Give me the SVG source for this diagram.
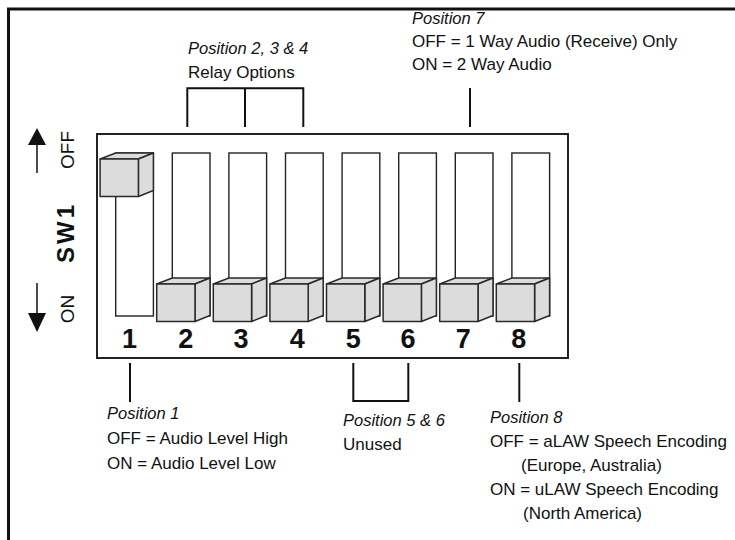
<svg xmlns="http://www.w3.org/2000/svg" xmlns:xlink="http://www.w3.org/1999/xlink" width="735" height="540" viewBox="0 0 735 540">
<style>
.frame{fill:none;stroke:#111;stroke-width:3}
.box{fill:#fff;stroke:#222;stroke-width:2}
.slot{fill:#fff;stroke:#222;stroke-width:1.4}
.cube{fill:#dcdcdc;stroke:#2a2a2a;stroke-width:1.5;stroke-linejoin:round}
.conn{fill:none;stroke:#111;stroke-width:2}
.t{font-family:"Liberation Sans",Arial,sans-serif;font-size:17px;fill:#111}
.it{font-family:"Liberation Sans",Arial,sans-serif;font-size:16.5px;font-style:italic;fill:#111}
.num{font-family:"Liberation Sans",Arial,sans-serif;font-size:27px;font-weight:bold;fill:#111;text-anchor:middle}
.side{font-family:"Liberation Sans",Arial,sans-serif;font-size:19px;fill:#111;text-anchor:middle}
.sw{font-family:"Liberation Sans",Arial,sans-serif;font-size:24px;font-weight:bold;fill:#111;text-anchor:middle}
.arr{fill:#111;stroke:none}
</style>
<defs>
<g id="cube">
<path class="cube" d="M-15.6,6 L0,0 L37.7,0 L22.7,6 Z"/>
<path class="cube" d="M22.7,6 L37.7,0 L37.7,37.5 L22.7,43.5 Z"/>
<rect class="cube" x="-15.6" y="6" width="38.3" height="37.5"/>
</g>
</defs>
<rect class="frame" x="8.5" y="9" width="740" height="540"/>

<g id="switch-body">
<rect class="box" x="97" y="134" width="471" height="224"/>
</g>

<g id="side-labels">
<line x1="37" y1="143" x2="37" y2="173" stroke="#111" stroke-width="1.5"/>
<polygon class="arr" points="37,128 28,145 46,145"/>
<line x1="37" y1="283" x2="37" y2="314" stroke="#111" stroke-width="1.5"/>
<polygon class="arr" points="37,332 28,313 46,313"/>
<text class="side" transform="translate(74,150) rotate(-90)">OFF</text>
<text class="sw" transform="translate(74,234) rotate(-90)" textLength="58">SW1</text>
<text class="side" transform="translate(74,309) rotate(-90)">ON</text>
</g>

<g id="switch-1">
<rect class="slot" x="115.7" y="153" width="37.7" height="163"/>
<use xlink:href="#cube" href="#cube" transform="translate(115.7,153)"/>
<text class="num" x="129.5" y="348">1</text>
</g>
<g id="switch-2">
<rect class="slot" x="172.3" y="153" width="37.7" height="163"/>
<use xlink:href="#cube" href="#cube" transform="translate(172.3,278)"/>
<text class="num" x="185.7" y="348">2</text>
</g>
<g id="switch-3">
<rect class="slot" x="228.9" y="153" width="37.7" height="163"/>
<use xlink:href="#cube" href="#cube" transform="translate(228.9,278)"/>
<text class="num" x="241" y="348">3</text>
</g>
<g id="switch-4">
<rect class="slot" x="285.5" y="153" width="37.7" height="163"/>
<use xlink:href="#cube" href="#cube" transform="translate(285.5,278)"/>
<text class="num" x="297.2" y="348">4</text>
</g>
<g id="switch-5">
<rect class="slot" x="342.1" y="153" width="37.7" height="163"/>
<use xlink:href="#cube" href="#cube" transform="translate(342.1,278)"/>
<text class="num" x="353.3" y="348">5</text>
</g>
<g id="switch-6">
<rect class="slot" x="398.7" y="153" width="37.7" height="163"/>
<use xlink:href="#cube" href="#cube" transform="translate(398.7,278)"/>
<text class="num" x="408" y="348">6</text>
</g>
<g id="switch-7">
<rect class="slot" x="455.3" y="153" width="37.7" height="163"/>
<use xlink:href="#cube" href="#cube" transform="translate(455.3,278)"/>
<text class="num" x="463.3" y="348">7</text>
</g>
<g id="switch-8">
<rect class="slot" x="511.9" y="153" width="37.7" height="163"/>
<use xlink:href="#cube" href="#cube" transform="translate(511.9,278)"/>
<text class="num" x="518.7" y="348">8</text>
</g>

<g id="connectors">
<path class="conn" d="M187.3,127 V88.3 H303.3 V127 M245,88.3 V127"/>
<path class="conn" d="M470,88 V127"/>
<path class="conn" d="M130,363 V402"/>
<path class="conn" d="M353.3,363 V401 H408.3 V363"/>
<path class="conn" d="M519.3,363 V402"/>
</g>

<g id="label-pos234">
<text class="it" x="188" y="54">Position 2, 3 &amp; 4</text>
<text class="t" x="188" y="78">Relay Options</text>
</g>
<g id="label-pos7">
<text class="it" x="412" y="24">Position 7</text>
<text class="t" x="412" y="47">OFF = 1 Way Audio (Receive) Only</text>
<text class="t" x="412" y="70">ON = 2 Way Audio</text>
</g>
<g id="label-pos1">
<text class="it" x="107" y="419">Position 1</text>
<text class="t" x="107" y="444">OFF = Audio Level High</text>
<text class="t" x="107" y="469">ON = Audio Level Low</text>
</g>
<g id="label-pos56">
<text class="it" x="343" y="426">Position 5 &amp; 6</text>
<text class="t" x="343" y="450">Unused</text>
</g>
<g id="label-pos8">
<text class="it" x="490" y="423">Position 8</text>
<text class="t" x="490" y="447">OFF = aLAW Speech Encoding</text>
<text class="t" x="521" y="471">(Europe, Australia)</text>
<text class="t" x="490" y="495">ON = uLAW Speech Encoding</text>
<text class="t" x="523" y="519">(North America)</text>
</g>
</svg>
